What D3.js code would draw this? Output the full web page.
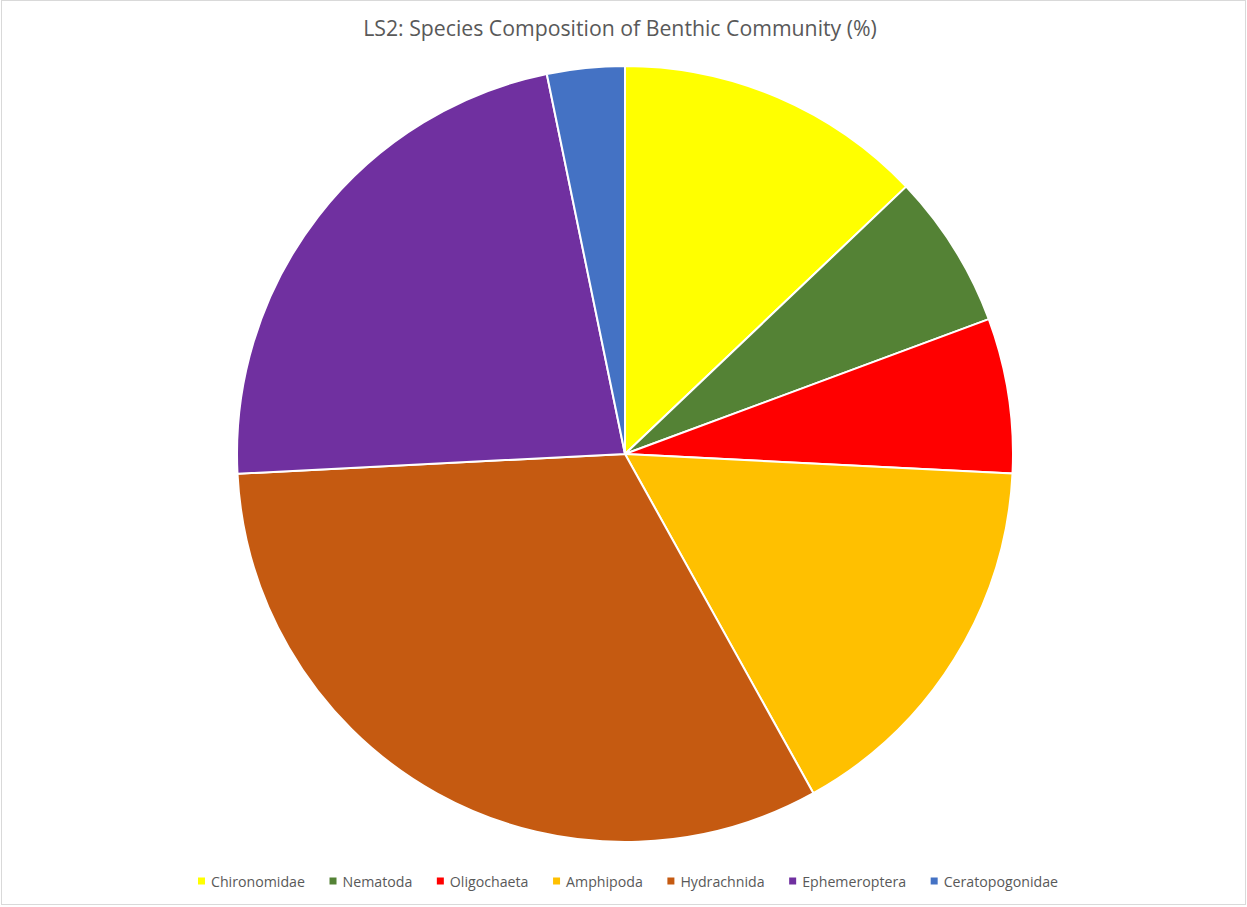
<!DOCTYPE html>
<html>
<head>
<meta charset="utf-8">
<script src="https://cdn.jsdelivr.net/npm/d3@7"></script>
<style>
  html, body { margin: 0; padding: 0; background: #fff; }
  svg { display: block; }
</style>
</head>
<body>
<svg id="chart" width="1247" height="907"></svg>
<script>
// Benthic community composition at site LS2 (share of individuals, %)
const species = ["Chironomidae", "Nematoda", "Oligochaeta", "Amphipoda", "Hydrachnida", "Ephemeroptera", "Ceratopogonidae"];
const percent = [12.90, 6.45, 6.45, 16.13, 32.26, 22.58, 3.23];
const colours = ["#FFFF00", "#548235", "#FF0000", "#FFC000", "#C55A11", "#7030A0", "#4472C4"];
const title = "LS2: Species Composition of Benthic Community (%)";

const W = 1247, H = 907;
const svg = d3.select("#chart");
const font = "'Open Sans', 'Liberation Sans', sans-serif";

// chart area frame
svg.append("rect")
  .attr("x", 1.5).attr("y", 0.5)
  .attr("width", 1244).attr("height", 904)
  .attr("fill", "#fff").attr("stroke", "#d9d9d9").attr("stroke-width", 1);

// title, sized to span the given width
const titleText = svg.append("text")
  .attr("x", 620).attr("y", 36)
  .attr("text-anchor", "middle")
  .attr("font-family", font)
  .attr("font-size", 19)
  .attr("fill", "#595959")
  .text(title);
const tw = titleText.node().getComputedTextLength();
titleText.attr("font-size", 19 * 514 / tw);

const data = species.map((s, i) => ({ name: s, value: percent[i], color: colours[i] }));

const cx = 625, cy = 454, r = 388;
const pie = d3.pie().value(d => d.value).sort(null);
const arc = d3.arc().innerRadius(0).outerRadius(r);

svg.append("g")
  .attr("transform", `translate(${cx},${cy})`)
  .selectAll("path")
  .data(pie(data))
  .join("path")
  .attr("d", arc)
  .attr("fill", d => d.data.color)
  .attr("stroke", "#fff")
  .attr("stroke-width", 2)
  .attr("stroke-linejoin", "round");

// legend, one row under the pie
const legend = svg.append("g");
const items = legend.selectAll("g").data(data).join("g");
items.append("rect")
  .attr("width", 7).attr("height", 7)
  .attr("y", -3.5)
  .attr("fill", d => d.color);
const labels = items.append("text")
  .attr("x", 13).attr("y", 0)
  .attr("dominant-baseline", "central")
  .attr("font-family", font)
  .attr("font-size", 13)
  .attr("fill", "#595959")
  .text(d => d.name);
const firstW = labels.node().getComputedTextLength();
labels.attr("font-size", 13 * 94 / firstW);

const widths = [];
items.each(function () { widths.push(this.querySelector("text").getComputedTextLength() + 13); });
const left = 198, right = 1058;
const gap = (right - left - d3.sum(widths)) / (data.length - 1);
let x = left;
items.each(function (d, i) {
  d3.select(this).attr("transform", `translate(${x},881)`);
  x += widths[i] + gap;
});
</script>
</body>
</html>
